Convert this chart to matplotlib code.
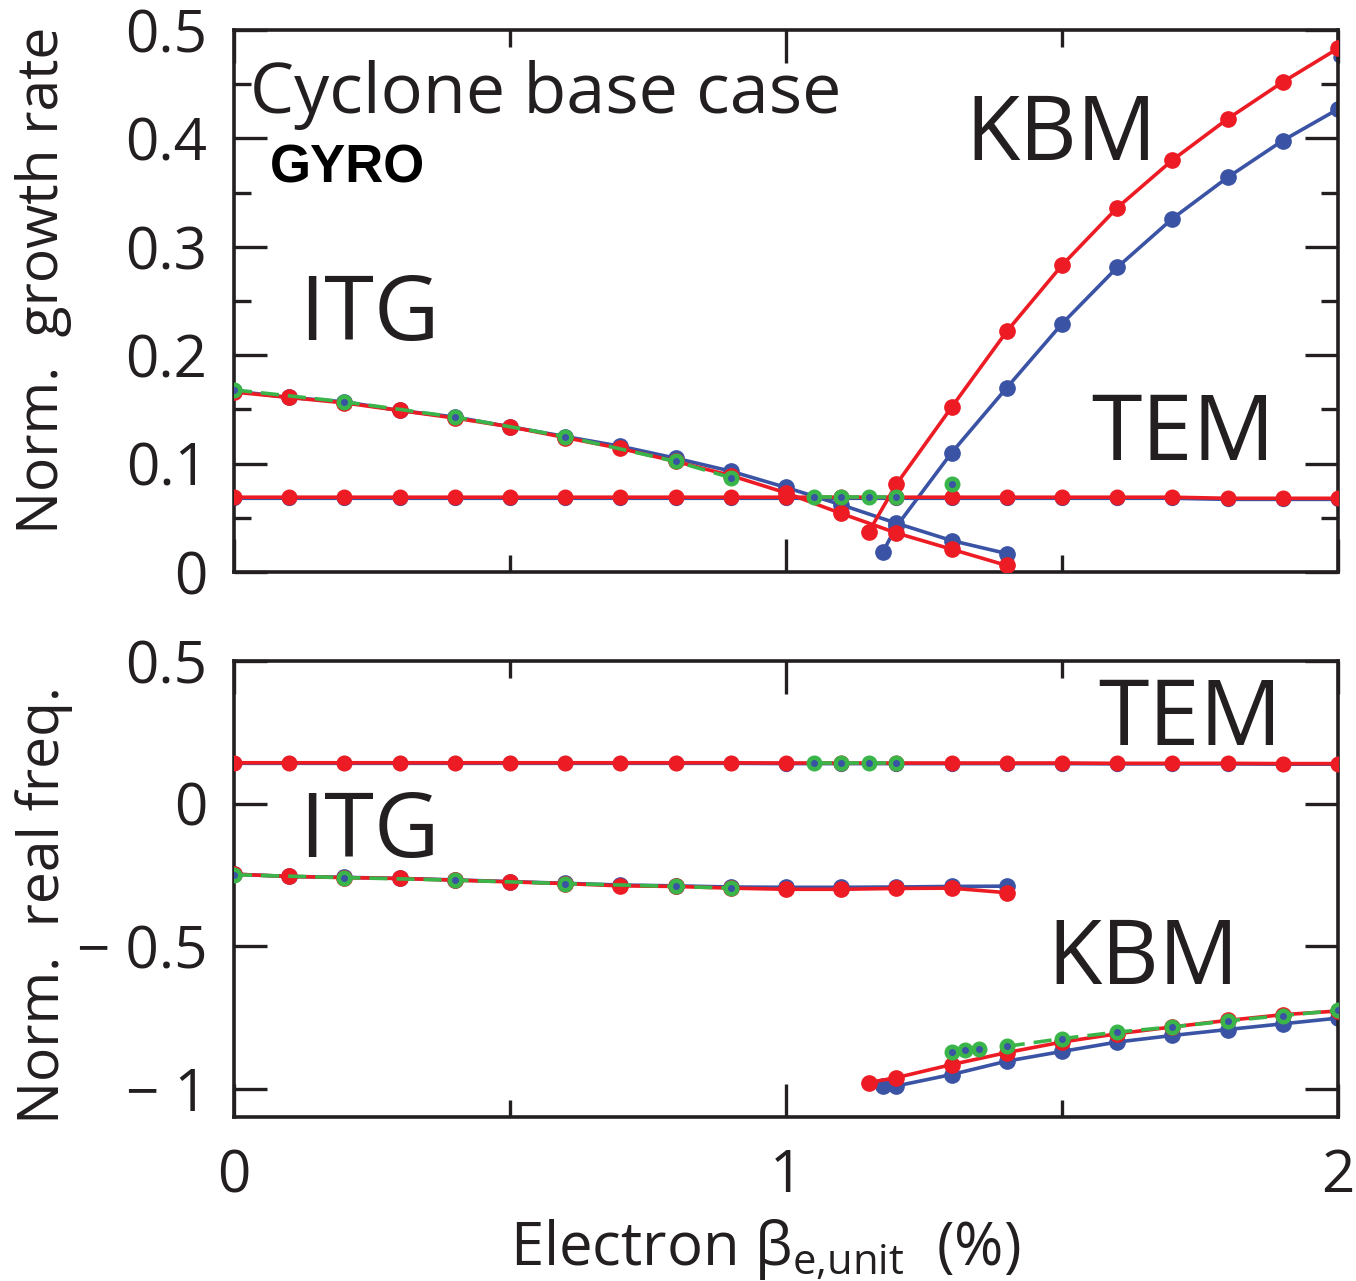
import matplotlib
matplotlib.use('Agg')
import matplotlib.pyplot as plt
from matplotlib.ticker import FixedLocator

plt.rcParams['font.family'] = ['Open Sans', 'DejaVu Sans']
plt.rcParams['mathtext.fontset'] = 'custom'
plt.rcParams['mathtext.rm'] = 'Open Sans'
plt.rcParams['mathtext.it'] = 'Open Sans:italic'

RED = '#ED1C24'
BLUE = '#3A53A4'
GREEN = '#39B54A'

# beta_e,unit (%) grid used by most scans
beta = [0.0, 0.1, 0.2, 0.3, 0.4, 0.5, 0.6, 0.7, 0.8, 0.9, 1.0,
        1.1, 1.2, 1.3, 1.4, 1.5, 1.6, 1.7, 1.8, 1.9, 2.0]
beta_itg = beta[:15]
beta_kbm_red = [1.15, 1.2, 1.3, 1.4, 1.5, 1.6, 1.7, 1.8, 1.9, 2.0]
beta_kbm_blue = [1.175, 1.2, 1.3, 1.4, 1.5, 1.6, 1.7, 1.8, 1.9, 2.0]
beta_green_itg = [0.0, 0.2, 0.4, 0.6, 0.8, 0.9]
beta_green_tem = [1.05, 1.1, 1.15, 1.2]
beta_green_kbm_pts = [1.3, 1.325, 1.35]
beta_green_kbm = [1.4, 1.5, 1.6, 1.7, 1.8, 1.9, 2.0]

# --- growth rates ---
gam_tem_red = [0.069, 0.069, 0.069, 0.069, 0.069, 0.069, 0.069, 0.069, 0.069, 0.069, 0.069,
               0.069, 0.069, 0.069, 0.069, 0.069, 0.069, 0.069, 0.068, 0.068, 0.068]
gam_tem_blue = [0.068, 0.068, 0.068, 0.068, 0.068, 0.068, 0.068, 0.068, 0.068, 0.068, 0.068,
                0.068, 0.068, 0.068, 0.068, 0.068, 0.068, 0.068, 0.067, 0.067, 0.067]
gam_itg_red = [0.166, 0.161, 0.156, 0.149, 0.142, 0.134, 0.124, 0.114, 0.102, 0.089,
               0.073, 0.054, 0.036, 0.021, 0.006]
gam_itg_blue = [0.167, 0.161, 0.157, 0.149, 0.143, 0.134, 0.125, 0.116, 0.105, 0.093,
                0.078, 0.062, 0.045, 0.029, 0.017]
gam_kbm_red = [0.037, 0.081, 0.152, 0.222, 0.283, 0.336, 0.380, 0.418, 0.452, 0.483]
gam_kbm_blue = [0.018, 0.042, 0.110, 0.170, 0.229, 0.281, 0.326, 0.364, 0.398, 0.427]
gam_green_itg = [0.168, 0.157, 0.143, 0.125, 0.102, 0.087]
gam_green_tem = [0.0695, 0.0695, 0.0695, 0.0695]
gam_green_extra = [0.081]
gam_blue_extra = [0.475]

# --- real frequencies ---
om_tem_red = [0.143, 0.143, 0.143, 0.143, 0.143, 0.143, 0.143, 0.143, 0.143, 0.143, 0.142,
              0.142, 0.142, 0.142, 0.142, 0.142, 0.141, 0.141, 0.141, 0.140, 0.140]
om_tem_blue = [0.141, 0.141, 0.141, 0.141, 0.141, 0.141, 0.141, 0.141, 0.141, 0.141, 0.140,
               0.140, 0.140, 0.140, 0.140, 0.140, 0.139, 0.139, 0.139, 0.138, 0.138]
om_itg_red = [-0.248, -0.256, -0.260, -0.263, -0.269, -0.275, -0.281, -0.289, -0.291,
              -0.297, -0.301, -0.301, -0.298, -0.297, -0.313]
om_itg_blue = [-0.248, -0.256, -0.259, -0.263, -0.268, -0.274, -0.280, -0.286, -0.289,
               -0.293, -0.294, -0.294, -0.293, -0.291, -0.290]
om_kbm_red = [-0.979, -0.962, -0.916, -0.874, -0.837, -0.808, -0.784, -0.761, -0.741, -0.728]
om_kbm_blue = [-0.991, -0.991, -0.951, -0.904, -0.870, -0.837, -0.814, -0.793, -0.773, -0.753]
om_green_itg = [-0.250, -0.260, -0.269, -0.281, -0.291, -0.297]
om_green_tem = [0.142, 0.142, 0.142, 0.142]
om_green_kbm_pts = [-0.872, -0.866, -0.862]
om_green_kbm = [-0.852, -0.825, -0.802, -0.784, -0.763, -0.744, -0.726]

W, H = 1356, 1281
fig = plt.figure(figsize=(W / 100, H / 100), dpi=100)
ax1 = fig.add_axes([234 / W, 1 - 572 / H, 1104 / W, 542 / H])
ax2 = fig.add_axes([234 / W, 1 - 1117 / H, 1104 / W, 456 / H])

LW = 2.6
MS = 11


def line(ax, x, y, c, ms=MS, z=2):
    ax.plot(x, y, '-', color=c, lw=LW, marker='o', ms=ms, mec=c, mfc=c, zorder=z)


def green(ax, x, y, joined=True):
    ls = (0, (5, 2.5)) if joined else 'none'
    ax.plot(x, y, color=GREEN, lw=LW, ls=ls, marker='o', ms=10.5, mfc=GREEN,
            mec=GREEN, zorder=4)
    ax.plot(x, y, ls='none', marker='o', ms=4, mfc=BLUE, mec=BLUE, zorder=5)


# growth rate panel
line(ax1, beta, gam_tem_blue, BLUE, ms=10, z=2)
line(ax1, beta_itg, gam_itg_blue, BLUE, z=2)
line(ax1, beta_kbm_blue, gam_kbm_blue, BLUE, z=2)
ax1.plot([2.0], gam_blue_extra, 'o', color=BLUE, ms=6.5, zorder=2)
line(ax1, beta, gam_tem_red, RED, ms=10.5, z=3)
line(ax1, beta_itg, gam_itg_red, RED, z=3)
line(ax1, beta_kbm_red, gam_kbm_red, RED, z=3)
green(ax1, beta_green_itg, gam_green_itg)
green(ax1, beta_green_tem, gam_green_tem)
green(ax1, [1.3], gam_green_extra, joined=False)

# real frequency panel
line(ax2, beta, om_tem_blue, BLUE, ms=10, z=2)
line(ax2, beta_itg, om_itg_blue, BLUE, z=2)
line(ax2, beta_kbm_blue, om_kbm_blue, BLUE, z=2)
line(ax2, beta, om_tem_red, RED, ms=10.5, z=3)
line(ax2, beta_itg, om_itg_red, RED, z=3)
line(ax2, beta_kbm_red, om_kbm_red, RED, z=3)
green(ax2, beta_green_itg, om_green_itg)
green(ax2, beta_green_tem, om_green_tem)
green(ax2, beta_green_kbm_pts, om_green_kbm_pts, joined=False)
green(ax2, beta_green_kbm, om_green_kbm)

TS = 42
INK = '#231F20'
for ax in (ax1, ax2):
    ax.set_xlim(0, 2)
    for s in ax.spines.values():
        s.set_linewidth(2.6)
        s.set_color(INK)
    ax.tick_params(which='both', direction='in', top=True, right=True,
                   width=2.4, color=INK, labelsize=TS, labelcolor=INK)
    ax.tick_params(which='major', length=24)
    ax.tick_params(which='minor', length=12)
    ax.xaxis.set_minor_locator(FixedLocator([0.5, 1.5]))

ax1.set_ylim(0, 0.5)
ax1.set_xticks([0, 1, 2])
ax1.tick_params(axis='x', labelbottom=False)
ax1.set_yticks([0, 0.1, 0.2, 0.3, 0.4, 0.5])
ax1.set_yticklabels(['0', '0.1', '0.2', '0.3', '0.4', '0.5'])
ax1.yaxis.set_minor_locator(FixedLocator([0.05, 0.15, 0.25, 0.35, 0.45]))
ax1.tick_params(axis='y', pad=19)

ax2.set_ylim(-1.1, 0.5)
ax2.set_xticks([0, 1, 2])
ax2.set_xticklabels(['0', '1', '2'])
ax2.set_yticks([-1, -0.5, 0, 0.5])
ax2.set_yticklabels(['\u2212 1', '\u2212 0.5', '0', '0.5'])
ax2.tick_params(axis='y', pad=19)
ax2.tick_params(axis='x', pad=22)

ax1.text(0.029, 0.4234, 'Cyclone base case', fontsize=50.5, color=INK, va='baseline')
ax1.text(0.065, 0.359, 'GYRO', fontsize=38, color='black', fontweight='bold',
         family='Liberation Sans', va='baseline')
ax1.text(0.118, 0.214, 'ITG', fontsize=65, color=INK, va='baseline')
ax1.text(1.325, 0.380, 'KBM', fontsize=64, color=INK, va='baseline')
ax1.text(1.553, 0.103, 'TEM', fontsize=66, color=INK, va='baseline')
ax2.text(1.565, 0.206, 'TEM', fontsize=66, color=INK, va='baseline')
ax2.text(0.118, -0.189, 'ITG', fontsize=65, color=INK, va='baseline')
ax2.text(1.473, -0.633, 'KBM', fontsize=64, color=INK, va='baseline')

fig.text(44 / W, 1 - 280 / H, 'Norm.  growth rate', rotation=90, fontsize=41,
         color=INK, ha='center', va='center')
fig.text(44 / W, 1 - 905 / H, 'Norm.  real freq.', rotation=90, fontsize=41,
         color=INK, ha='center', va='center')
fig.text(765 / W, 1 - 1265 / H, 'Electron \u03b2$_{\\mathrm{e{,}unit}}$  (%)',
         fontsize=43, color=INK, ha='center', va='baseline')

fig.savefig('out.png', dpi=100)
